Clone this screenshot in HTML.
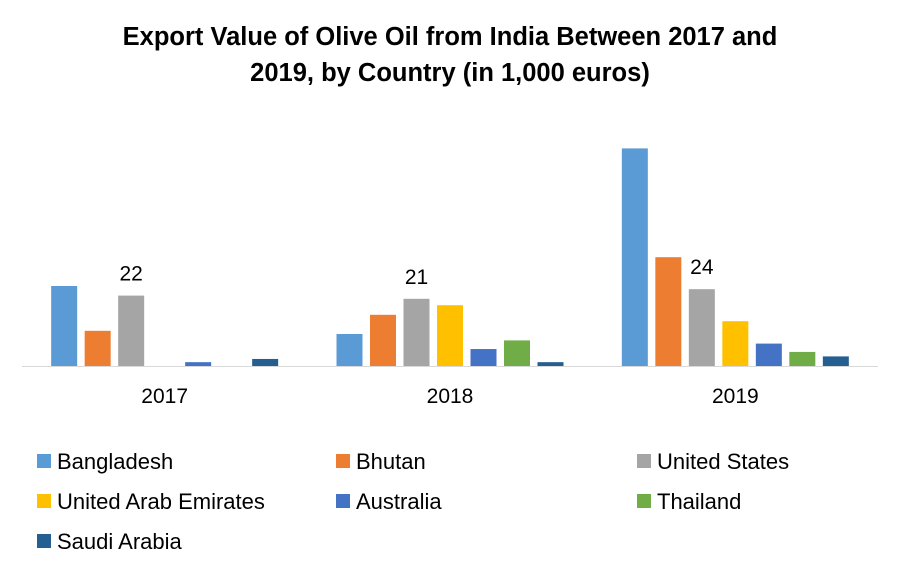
<!DOCTYPE html>
<html><head><meta charset="utf-8">
<style>
html,body{margin:0;padding:0;background:#fff;}
body{width:900px;height:563px;overflow:hidden;font-family:"Liberation Sans",sans-serif;}
</style></head>
<body>
<svg id="chart" width="900" height="563" xmlns="http://www.w3.org/2000/svg">
<text x="450" y="45" text-anchor="middle" font-size="25.5" font-weight="bold" fill="#000">Export Value of Olive Oil from India Between 2017 and</text>
<text x="450" y="81" text-anchor="middle" font-size="25.5" font-weight="bold" fill="#000">2019, by Country (in 1,000 euros)</text>
<g id="bars"></g>
<line x1="22" y1="366.5" x2="878" y2="366.5" stroke="#d9d9d9" stroke-width="1"/>
<g id="labels"></g>
<g id="legend"></g>
</svg>
<script>
const categories = ["2017","2018","2019"];
const seriesNames = ["Bangladesh","Bhutan","United States","United Arab Emirates","Australia","Thailand","Saudi Arabia"];
const seriesColors = ["#5b9bd5","#ed7d31","#a5a5a5","#ffc000","#4472c4","#70ad47","#255e91"];
const bangladesh = [25,10,68];
const bhutan = [11,16,34];
const unitedStates = [22,21,24];
const uae = [0,19,14];
const australia = [1.2,5.3,7];
const thailand = [0,8,4.4];
const saudiArabia = [2.2,1.2,3];
const seriesValues = [bangladesh,bhutan,unitedStates,uae,australia,thailand,saudiArabia];
const labelSeries = 2;

const NS="http://www.w3.org/2000/svg";
const baseY=366, pxPerUnit=3.2, plotL=22, plotR=878;
const groupW=(plotR-plotL)/categories.length, step=33.5, barW=26;
function yScale(v){return baseY - v*pxPerUnit;}
function groupCenter(i){return plotL+groupW*(i+0.5);}
function barX(i,s){return groupCenter(i) - step*seriesNames.length/2 + step*s + (step-barW)/2;}

const bars=document.getElementById('bars');
const labels=document.getElementById('labels');
seriesValues.forEach((vals,s)=>{
  vals.forEach((v,i)=>{
    const r=document.createElementNS(NS,'rect');
    
    
    r.setAttribute('x',barX(i,s));
    r.setAttribute('y',yScale(v));
    r.setAttribute('width',barW);
    r.setAttribute('height',Math.max(0,baseY-yScale(v)));
    r.setAttribute('fill',seriesColors[s]);
    bars.appendChild(r);
    if(s===labelSeries){
      const t=document.createElementNS(NS,'text');
      
      
      t.setAttribute('x',barX(i,s)+barW/2);
      t.setAttribute('y',yScale(v)-15);
      t.setAttribute('text-anchor','middle');
      t.setAttribute('font-size','21');
      t.setAttribute('fill','#000');
      t.textContent=Math.round(v);
      labels.appendChild(t);
    }
  });
});
categories.forEach((c,i)=>{
  const t=document.createElementNS(NS,'text');
  
  
  t.setAttribute('x',groupCenter(i));
  t.setAttribute('y',403);
  t.setAttribute('text-anchor','middle');
  t.setAttribute('font-size','21');
  t.setAttribute('fill','#000');
  t.textContent=c;
  labels.appendChild(t);
});
const legend=document.getElementById('legend');
const colX=[37,336,637], rowY=[461,501,541];
seriesNames.forEach((n,s)=>{
  const cx=colX[s%3], cy=rowY[Math.floor(s/3)];
  const g=document.createElementNS(NS,'g');
  
  
  const r=document.createElementNS(NS,'rect');
  r.setAttribute('x',cx);r.setAttribute('y',cy-7);r.setAttribute('width',14);r.setAttribute('height',14);
  r.setAttribute('fill',seriesColors[s]);
  const t=document.createElementNS(NS,'text');
  t.setAttribute('x',cx+20);t.setAttribute('y',cy+8);t.setAttribute('font-size','22');t.setAttribute('fill','#000');
  t.textContent=n;
  g.appendChild(r);g.appendChild(t);legend.appendChild(g);
});
</script>
</body></html>
